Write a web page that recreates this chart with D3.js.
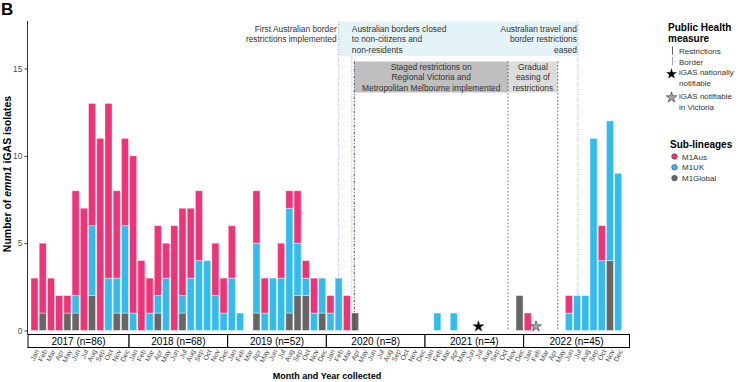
<!DOCTYPE html>
<html lang="en">
<head>
  <meta charset="UTF-8">
  <title>emm1 iGAS isolates</title>
  <script src="https://cdn.jsdelivr.net/npm/d3@7"></script>
  <style>
    body { margin: 0; background: white; }
    svg { font-family: "Liberation Sans", Arial, sans-serif; display: block; }
  </style>
</head>
<body>
  <div id="chart"></div>
  <script>
    const monthNames = ["Jan", "Feb", "Mar", "Apr", "May", "Jun", "Jul", "Aug", "Sep", "Oct", "Nov", "Dec"]
    const years = [2017, 2018, 2019, 2020, 2021, 2022]
    const yearTotals = [86, 68, 52, 8, 4, 45]

    // counts per month, Jan 2017 .. Dec 2022
    const m1Aus = [
      3, 4, 3, 2, 1, 6, 7, 7, 11, 10, 5, 5,
      9, 4, 2, 4, 2, 6, 5, 4, 4, 0, 3, 2,
      3, 0, 0, 3, 2, 0, 2, 1, 3, 1, 2, 0,
      1, 0, 2, 0, 0, 0, 0, 0, 0, 0, 0, 0,
      0, 0, 0, 0, 0, 0, 0, 0, 0, 0, 0, 0,
      1, 0, 0, 0, 0, 1, 0, 0, 0, 2, 0, 0
    ]
    const m1UK = [
      0, 0, 0, 0, 0, 1, 0, 4, 0, 3, 2, 5,
      1, 0, 1, 1, 3, 0, 1, 3, 4, 4, 2, 1,
      3, 1, 0, 4, 1, 3, 3, 6, 3, 1, 1, 2,
      1, 3, 0, 0, 0, 0, 0, 0, 0, 0, 0, 0,
      0, 1, 0, 1, 0, 0, 0, 0, 0, 0, 0, 0,
      0, 0, 0, 0, 0, 1, 2, 2, 11, 4, 8, 9
    ]
    const m1Global = [
      0, 1, 0, 0, 1, 1, 0, 2, 0, 0, 1, 1,
      0, 0, 0, 1, 0, 0, 1, 0, 0, 0, 0, 0,
      0, 0, 0, 1, 0, 0, 0, 1, 2, 2, 0, 1,
      0, 0, 0, 1, 0, 0, 0, 0, 0, 0, 0, 0,
      0, 0, 0, 0, 0, 0, 0, 0, 0, 0, 0, 2,
      0, 0, 0, 0, 0, 0, 0, 0, 0, 0, 4, 0
    ]
    const yTicks = [0, 5, 10, 15]

    // month positions (index from Jan 2017) of public health events
    const borderLines = [37, 38.6, 66.1]
    const restrictionLines = [38.9]
    const easingLines = [57.6, 63.65]
    const stars = [{ month: 54, fill: "black" }, { month: 61, fill: "#a6a6a6" }]

    const lineages = ["M1Global", "M1UK", "M1Aus"]
    const colors = { M1Aus: "#ee3377", M1UK: "#33bbee", M1Global: "#666666" }

    const width = 738
    const height = 382

    const monthKeys = []
    years.forEach(y => monthNames.forEach(m => monthKeys.push(`${m} ${y}`)))

    const rows = monthKeys.map((k, i) => ({
      key: k, M1Aus: m1Aus[i], M1UK: m1UK[i], M1Global: m1Global[i]
    }))

    const x = d3.scaleBand()
      .domain(monthKeys)
      .range([30.4, 622.3])
      .paddingInner(0.14)
      .paddingOuter(0.07)

    const y = d3.scaleLinear()
      .domain([0, 15])
      .range([330.5, 68.5])

    const step = x.step()
    const xc = i => x(monthKeys[0]) + x.bandwidth() / 2 + i * step

    const svg = d3.select("#chart")
      .append("svg")
      .attr("width", width)
      .attr("height", height)

    // panel letter
    svg.append("text")
      .attr("x", 1)
      .attr("y", 15)
      .style("font-size", "17px")
      .style("font-weight", "bold")
      .text("B")

    // annotation backgrounds
    svg.append("rect")
      .attr("x", xc(37)).attr("y", 21.5)
      .attr("width", xc(66.1) - xc(37)).attr("height", 34.5)
      .attr("fill", "#e3f3f7")

    svg.append("rect")
      .attr("x", xc(38.9)).attr("y", 61.5)
      .attr("width", xc(57.6) - xc(38.9)).attr("height", 31)
      .attr("fill", "#bfbfbf")

    svg.append("rect")
      .attr("x", xc(57.6)).attr("y", 61.5)
      .attr("width", xc(63.65) - xc(57.6)).attr("height", 31)
      .attr("fill", "#dcdcdc")

    // bars
    const stack = d3.stack().keys(lineages)(rows)
    svg.append("g")
      .selectAll("g")
      .data(stack)
      .enter()
      .append("g")
      .attr("fill", d => colors[d.key])
      .selectAll("rect")
      .data(d => d.filter(s => s[1] > s[0]))
      .enter()
      .append("rect")
      .attr("x", d => x(d.data.key))
      .attr("width", x.bandwidth())
      .attr("y", d => y(d[1]))
      .attr("height", d => y(d[0]) - y(d[1]))
      .attr("stroke", "white")
      .attr("stroke-opacity", 0.5)
      .attr("stroke-width", 0.8)

    // event lines
    const lineG = svg.append("g")
    borderLines.forEach((m, i) => {
      lineG.append("line")
        .attr("x1", xc(m)).attr("x2", xc(m))
        .attr("y1", i === 1 ? 56 : 21.5).attr("y2", 330.5)
        .attr("stroke", "#8080f5")
        .attr("stroke-width", 0.7)
        .attr("stroke-dasharray", "1,1.5")
    })
    restrictionLines.forEach(m => {
      lineG.append("line")
        .attr("x1", xc(m)).attr("x2", xc(m))
        .attr("y1", 61.5).attr("y2", 330.5)
        .attr("stroke", "#333")
        .attr("stroke-width", 0.8)
        .attr("stroke-dasharray", "3,1.5,1,1.5")
    })
    easingLines.forEach(m => {
      lineG.append("line")
        .attr("x1", xc(m)).attr("x2", xc(m))
        .attr("y1", 61.5).attr("y2", 330.5)
        .attr("stroke", "#444")
        .attr("stroke-width", 0.8)
        .attr("stroke-dasharray", "1.5,2")
    })

    // annotation texts
    const note = (lines, xPos, yPos, anchor) => {
      const t = svg.append("text")
        .attr("text-anchor", anchor)
        .style("font-size", "8.4px")
        .attr("fill", "#333")
      lines.forEach((l, i) => {
        t.append("tspan").attr("x", xPos).attr("y", yPos + i * 10.8).text(l)
      })
    }
    note(["First Australian border", "restrictions implemented"], xc(37) - 2, 31.5, "end")
    note(["Australian borders closed", "to non-citizens and", "non-residents"], xc(38.6), 31.5, "start")
    note(["Australian travel and", "border restrictions", "eased"], xc(66.1) - 1, 31.5, "end")
    note(["Staged restrictions on", "Regional Victoria and", "Metropolitan Melbourne implemented"],
      (xc(38.9) + xc(57.6)) / 2, 69.5, "middle")
    note(["Gradual", "easing of", "restrictions"], (xc(57.6) + xc(63.65)) / 2, 69.5, "middle")

    // stars
    svg.append("g")
      .selectAll("path")
      .data(stars)
      .enter()
      .append("path")
      .attr("d", d3.symbol().type(d3.symbolStar).size(36))
      .attr("transform", d => `translate(${xc(d.month)}, 326.5)`)
      .attr("fill", d => d.fill)
      .attr("stroke", "#333")
      .attr("stroke-width", 0.6)

    // y axis
    const yAxis = d3.axisLeft(y).tickValues(yTicks).tickSize(3).tickPadding(2)
    const yG = svg.append("g")
      .attr("transform", "translate(27.5, 0)")
      .call(yAxis)
    yG.select(".domain").remove()
    yG.selectAll(".tick line").attr("stroke", "#333")
    yG.selectAll(".tick text")
      .style("font-size", "8.5px")
      .attr("fill", "#4d4d4d")
      .style("font-family", "Liberation Sans, Arial, sans-serif")
    svg.append("line")
      .attr("x1", 27.5).attr("x2", 27.5)
      .attr("y1", 21).attr("y2", 334.5)
      .attr("stroke", "#333")
      .attr("stroke-width", 1)

    const yTitle = svg.append("text")
      .attr("transform", "translate(11, 174) rotate(-90)")
      .attr("text-anchor", "middle")
      .style("font-size", "10.5px")
      .style("font-weight", "bold")
    yTitle.append("tspan").text("Number of ")
    yTitle.append("tspan").style("font-style", "italic").text("emm1")
    yTitle.append("tspan").text(" iGAS isolates")

    // year boxes
    const bounds = years.map((yr, i) => {
      const left = i === 0 ? 28 : xc(i * 12) - step / 2
      const right = i === years.length - 1 ? 629.5 : xc(i * 12 + 11) + step / 2
      return { yr, total: yearTotals[i], left, right }
    })
    const boxG = svg.append("g")
    boxG.selectAll("rect")
      .data(bounds)
      .enter()
      .append("rect")
      .attr("x", d => d.left)
      .attr("y", 334.5)
      .attr("width", d => d.right - d.left)
      .attr("height", 13)
      .attr("fill", "white")
      .attr("stroke", "black")
      .attr("stroke-width", 1)
    boxG.selectAll("text")
      .data(bounds)
      .enter()
      .append("text")
      .attr("x", d => (d.left + d.right) / 2)
      .attr("y", 345)
      .attr("text-anchor", "middle")
      .style("font-size", "10px")
      .text(d => `${d.yr} (n=${d.total})`)

    // month labels
    svg.append("g")
      .selectAll("text")
      .data(monthKeys)
      .enter()
      .append("text")
      .attr("transform", (d, i) => `translate(${xc(i) + 2.5}, 350) rotate(-65)`)
      .attr("text-anchor", "end")
      .attr("dy", "0.35em")
      .attr("fill", "#4d4d4d")
      .style("font-size", "7px")
      .text(d => d.split(" ")[0])

    svg.append("text")
      .attr("x", 327)
      .attr("y", 379)
      .attr("text-anchor", "middle")
      .style("font-size", "9px")
      .style("font-weight", "bold")
      .text("Month and Year collected")

    // legend: public health measure
    const lg = svg.append("g")
    lg.append("text").attr("x", 668).attr("y", 31)
      .style("font-size", "10px").style("font-weight", "bold").text("Public Health")
    lg.append("text").attr("x", 668).attr("y", 42)
      .style("font-size", "10px").style("font-weight", "bold").text("measure")
    lg.append("line").attr("x1", 672.5).attr("x2", 672.5).attr("y1", 46.5).attr("y2", 54.5)
      .attr("stroke", "#333").attr("stroke-width", 0.8)
    lg.append("line").attr("x1", 672.5).attr("x2", 672.5).attr("y1", 57).attr("y2", 65)
      .attr("stroke", "#8080f5").attr("stroke-width", 0.8)
    const legText = (t, yy) => lg.append("text").attr("x", 679).attr("y", yy)
      .style("font-size", "8px").attr("fill", "#333").text(t)
    legText("Restrictions", 54)
    legText("Border", 64.5)
    legText("iGAS nationally", 75)
    legText("notifiable", 85.5)
    legText("iGAS notifiable", 99)
    legText("in Victoria", 109.5)
    lg.append("path").attr("d", d3.symbol().type(d3.symbolStar).size(36))
      .attr("transform", "translate(671.5, 74)").attr("fill", "black")
    lg.append("path").attr("d", d3.symbol().type(d3.symbolStar).size(36))
      .attr("transform", "translate(671.5, 97.5)").attr("fill", "#a6a6a6")
      .attr("stroke", "#333").attr("stroke-width", 0.6)

    // legend: sub-lineages
    lg.append("text").attr("x", 670).attr("y", 148)
      .style("font-size", "10px").style("font-weight", "bold").text("Sub-lineages")
    const subs = ["M1Aus", "M1UK", "M1Global"]
    subs.forEach((s, i) => {
      lg.append("circle").attr("cx", 674.5).attr("cy", 156.5 + i * 10.8).attr("r", 2.8)
        .attr("fill", colors[s]).attr("stroke", "#333").attr("stroke-width", 0.5)
      lg.append("text").attr("x", 682).attr("y", 159.5 + i * 10.8)
        .style("font-size", "8px").attr("fill", "#333").text(s)
    })
  </script>
</body>
</html>
